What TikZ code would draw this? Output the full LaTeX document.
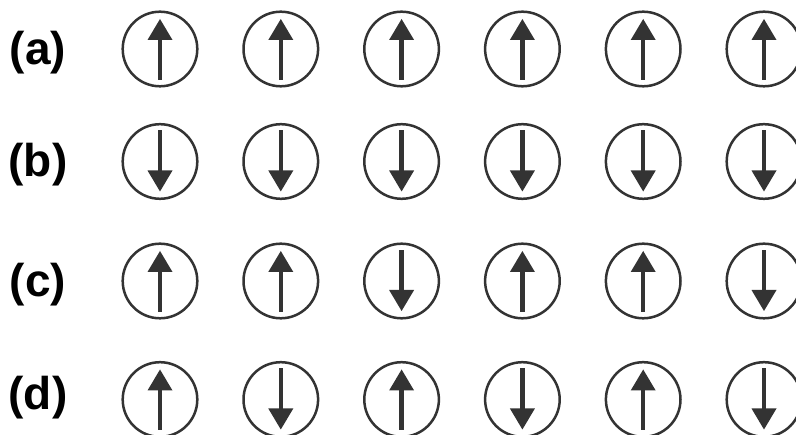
\documentclass[tikz,border=0pt]{standalone}
\usepackage{fontspec}
\setmainfont{Liberation Sans}
\definecolor{ink}{HTML}{333333}
\tikzset{
  spinring/.style={circle, draw=ink, line width=2.5pt, minimum size=74.6pt, inner sep=0pt},
  rowlabel/.style={font=\fontsize{46}{50}\selectfont\bfseries, text=black, inner sep=0pt, anchor=center},
  spinup/.pic={
    \fill[ink] (-2.2,31) rectangle (2.2,-12);
    \fill[ink] (0,-30) -- (-12.5,-9) -- (12.5,-9) -- cycle;
  }
}
\begin{document}
\begin{tikzpicture}[x=1pt,y=-1pt]
\useasboundingbox (0,0) rectangle (796,435);
\clip (0,0) rectangle (796,435);
\fill[white] (0,0) rectangle (796,435);
% row labels
\node[rowlabel] (la) at (38,53) {(a)};
\node[rowlabel] (lb) at (38,165) {(b)};
\node[rowlabel] (lc) at (38,285) {(c)};
\node[rowlabel] (ld) at (38,397.5) {(d)};
% spins: row / y / pattern (1 = up, 0 = down)
\foreach \r/\y/\pat in {a/49/{1,1,1,1,1,1}, b/161.5/{0,0,0,0,0,0}, c/281/{1,1,0,1,1,0}, d/399.5/{1,0,1,0,1,0}}{
  \foreach \s [count=\i from 0] in \pat {
    \pgfmathsetmacro{\xx}{160+120.8*\i}
    \node[spinring] (s\r\i) at (\xx,\y) {};
    \ifnum\s=1
      \pic at (s\r\i.center) {spinup};
    \else
      \pic[rotate=180] at (s\r\i.center) {spinup};
    \fi
  }
}
\end{tikzpicture}
\end{document}
